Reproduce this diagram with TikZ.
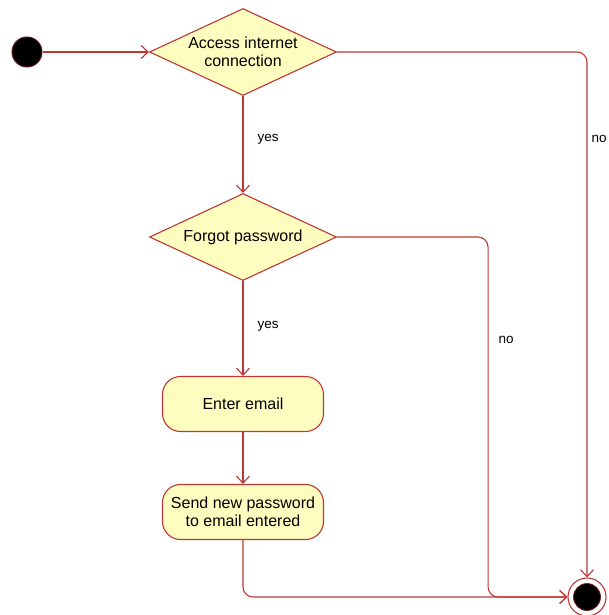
\documentclass[tikz,border=0pt]{standalone}
\usepackage{fontspec}
\setmainfont{Liberation Sans}
\usetikzlibrary{shapes.geometric,arrows.meta}
\definecolor{umlred}{RGB}{190,55,55}
\definecolor{umlfill}{RGB}{255,252,192}

\begin{document}
\begin{tikzpicture}[x=1pt, y=-1pt,
  every node/.style = {font=\fontsize{16}{18}\selectfont},
  decision/.style = {shape=diamond, aspect=2.14, draw=umlred, fill=umlfill,
    line width=1.1pt, inner sep=0pt, align=center,
    minimum width=187pt, minimum height=87pt},
  action/.style = {shape=rectangle, rounded corners=18pt, draw=umlred,
    fill=umlfill, line width=1.1pt, align=center,
    minimum width=161pt, minimum height=55pt},
  flow/.style = {draw=umlred, line width=1.1pt, rounded corners=10pt,
    -{Straight Barb[length=7pt,width=13pt]}},
  guard/.style = {font=\fontsize{13.5}{16}\selectfont}]
  \useasboundingbox (0,0) rectangle (608,615);

  % nodes
  \node[circle, fill=black, draw=umlred!50!black, line width=1pt,
    minimum size=30pt, inner sep=0pt] (start) at (27,52) {};
  \node[decision] (internet) at (243,52) {Access internet\\connection};
  \node[decision] (forgot) at (243,237) {Forgot password};
  \node[action] (email) at (243,404) {Enter email};
  \node[action] (send) at (243,512) {Send new password\\to email entered};
  \node[circle, draw=umlred, fill=white, line width=1.1pt,
    minimum size=38pt, inner sep=0pt] (final) at (587,597) {};
  \node[circle, fill=black, draw=umlred!60!black, line width=0.8pt,
    minimum size=27pt, inner sep=0pt] (finaldot) at (final) {};

  % connectors
  \draw[flow] (start) -- (internet.west);
  \draw[flow] (internet.south) -- (forgot.north);
  \draw[flow] (internet.east) -| (final.north);
  \draw[flow] (forgot.south) -- (email.north);
  \draw[flow] (forgot.east) -- ++(151,0) |- (final.west);
  \draw[flow] (email.south) -- (send.north);
  \draw[flow] (send.south) |- (final.west);

  % guards
  \node[guard] (yes1) at (268,139) {yes};
  \node[guard] (yes2) at (268,326) {yes};
  \node[guard] (no1) at (506,340) {no};
  \node[guard] (no2) at (599,139) {no};
\end{tikzpicture}
\end{document}
